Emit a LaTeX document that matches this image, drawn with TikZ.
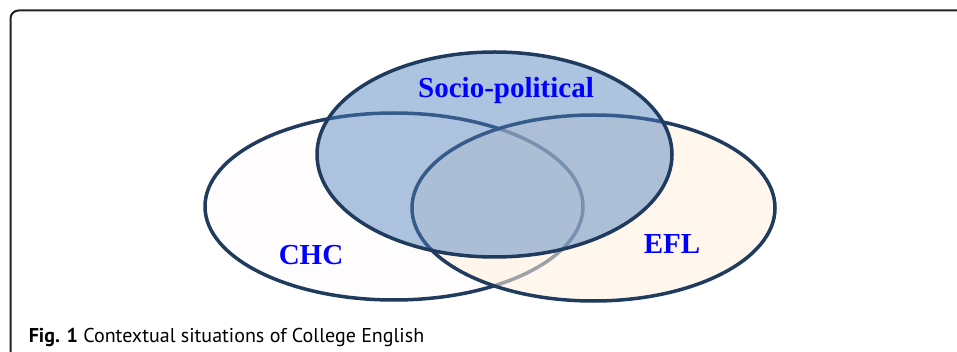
\documentclass[tikz,border=0pt]{standalone}
\usepackage{fontspec}
\setmainfont{Liberation Serif}
\newfontfamily\capfont{PT Sans}
\usetikzlibrary{positioning}
\usetikzlibrary{shapes.geometric}

\definecolor{rimblue}{HTML}{1F3B5E}
\definecolor{chcfill}{HTML}{FFFCFD}
\definecolor{eflfill}{HTML}{FFF0DF}
\definecolor{sociofill}{HTML}{4F81BD}
\definecolor{framegray}{HTML}{222222}

\begin{document}
\begin{tikzpicture}
[x=1pt,y=-1pt,
every node/.style={ellipse,draw=rimblue,line width=3.5pt,inner sep=0pt},
lbl/.style={rectangle,draw=none,text=blue,font=\bfseries\fontsize{29}{34}\selectfont}]

\useasboundingbox (0,0) rectangle (957,352);

% open frame
\draw[framegray,line width=2pt,rounded corners=8pt] (10.5,352) -- (10.5,10.5) -- (957,10.5);

\node[fill=chcfill,minimum width=378pt,minimum height=187pt] (chc) at (394,206.5) {};
\node[fill=eflfill,fill opacity=0.57,minimum width=363pt,minimum height=186pt] (efl) at (593.5,208) {};
\node[fill=sociofill,fill opacity=0.47,minimum width=355pt,minimum height=205pt] (socio) at (494.5,154.5) {};

\node[lbl] (sociolbl) at (506,91) {Socio-political};
\node[lbl] (chclbl) at (311,255) {CHC};
\node[lbl] (efllbl) at (672,244) {EFL};

\node[rectangle,draw=none,anchor=base west,inner sep=0pt,font=\capfont\fontsize{20}{24}\selectfont] (caption) at (27,342)
  {\textbf{Fig. 1} Contextual situations of College English};

\end{tikzpicture}
\end{document}
